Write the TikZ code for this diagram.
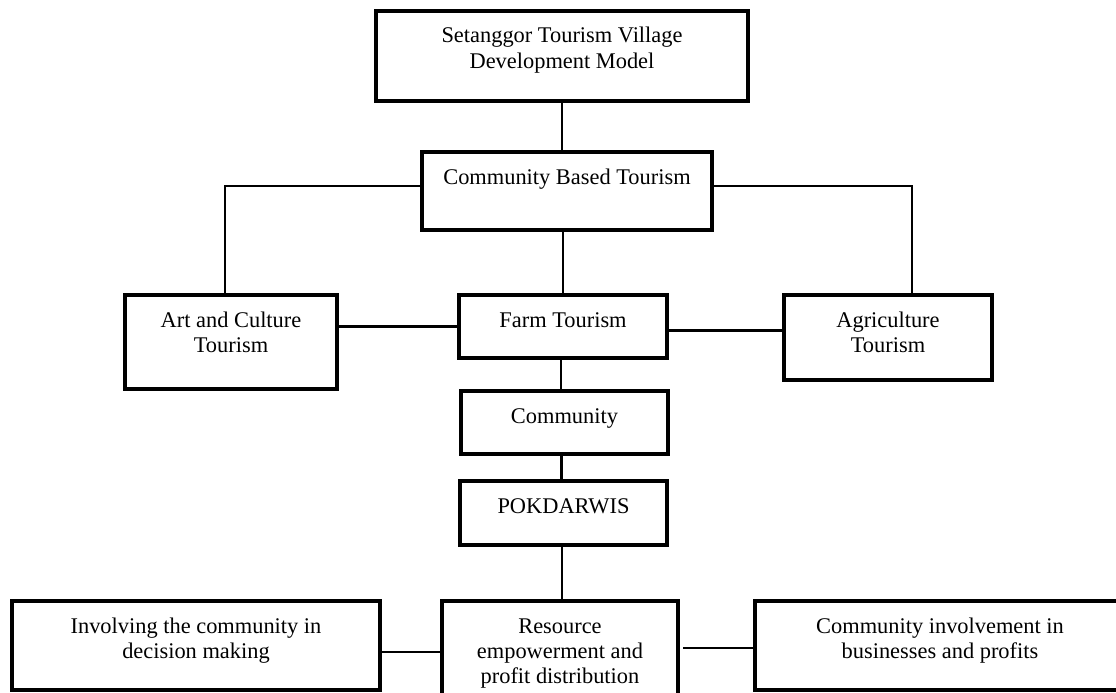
\documentclass[tikz,border=0pt]{standalone}
\usepackage{fontspec}
\setmainfont{Liberation Serif}
\usetikzlibrary{calc}
\newcommand\boxtxt[3]{\parbox[c][#2][t]{#1}{\centering\rule{0pt}{32pt}#3\par}}
\tikzset{
  bx/.style={draw, line width=3.2pt, inner sep=0pt, outer sep=0pt, fill=white,
             font=\fontsize{22.4}{25}\selectfont},
  ln/.style={line width=2.2pt},
  lnb/.style={line width=2.8pt}
}
\begin{document}
\begin{tikzpicture}[x=1pt,y=-1pt]
\useasboundingbox (0,0) rectangle (1116,693);
\clip (0,0) rectangle (1116,693);
\fill[white] (0,0) rectangle (1116,693);

\node[bx] (b1) at (562,56) {\boxtxt{372pt}{90pt}{Setanggor Tourism Village\\Development Model}};
\node[bx] (b2) at (567,191) {\boxtxt{290pt}{78pt}{Community Based Tourism}};
\node[bx] (b3) at (231,342) {\boxtxt{212pt}{94pt}{Art and Culture\\Tourism}};
\node[bx] (b4) at (563,326.5) {\boxtxt{208pt}{63pt}{Farm Tourism}};
\node[bx] (b5) at (888,337.5) {\boxtxt{208pt}{85pt}{Agriculture\\Tourism}};
\node[bx] (b6) at (564.5,422.5) {\boxtxt{207pt}{63pt}{Community}};
\node[bx] (b7) at (563.5,513) {\boxtxt{207pt}{64pt}{POKDARWIS}};
\node[bx] (b8) at (560,660.5) {\boxtxt{236pt}{119pt}{Resource\\empowerment and\\profit distribution}};
\node[bx] (b9) at (196,645.5) {\boxtxt{368pt}{89pt}{Involving the community in\\decision making}};
\node[bx] (b10) at (940,645.5) {\boxtxt{370pt}{89pt}{Community involvement in\\businesses and profits}};

% connectors
\draw[ln] (b1.south) -- (b1.south |- b2.north);
\coordinate (l1) at ($(b2.west)+(0,-5)$);
\coordinate (l2) at ($(b3.north)+(-6,0)$);
\draw[ln] (l1) -| (l2);
\coordinate (r1) at ($(b2.east)+(0,-5)$);
\coordinate (r2) at ($(b5.north)+(24,0)$);
\draw[ln] (r1) -| (r2);
\draw[ln] (b4.north) -- (b4.north |- b2.south);
\draw[ln] (b4.west) -- (b4.west -| b3.east);
\coordinate (f1) at ($(b4.east)+(0,4)$);
\draw[ln] (f1) -- (f1 -| b5.west);
\coordinate (f2) at ($(b4.south)+(-2,0)$);
\draw[ln] (f2) -- (f2 |- b6.north);
\coordinate (c1) at ($(b6.south)+(-3,0)$);
\draw[ln] (c1) -- (c1 |- b7.north);
\coordinate (p1) at ($(b7.south)+(-1.5,0)$);
\draw[lnb] (p1) -- (p1 |- b8.north);
\coordinate (i1) at ($(b9.east)+(0,6.5)$);
\draw[lnb] (i1) -- (i1 -| b8.west);
\coordinate (k1) at ($(b10.west)+(0,2.5)$);
\draw[lnb, shorten >=5pt] (k1) -- (k1 -| b8.east);
\end{tikzpicture}
\end{document}
